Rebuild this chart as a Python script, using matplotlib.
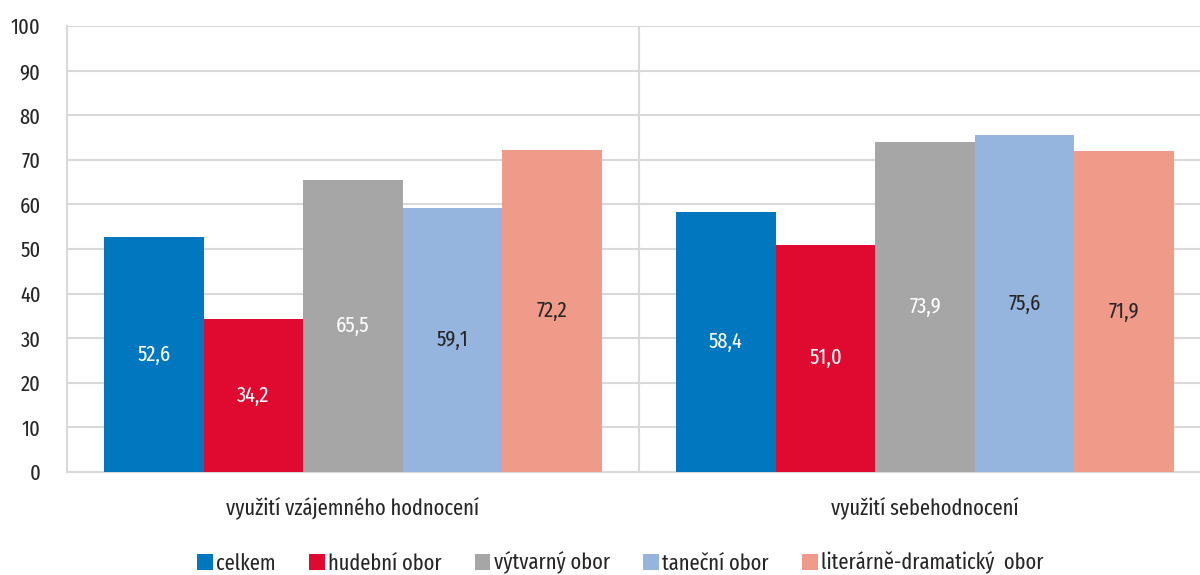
import matplotlib

matplotlib.use("Agg")

import matplotlib.pyplot as plt
import numpy as np

plt.rcParams["font.family"] = ["Fira Sans Extra Condensed", "DejaVu Sans"]

categories = ["využití vzájemného hodnocení", "využití sebehodnocení"]
series_names = ["celkem", "hudební obor", "výtvarný obor", "taneční obor", "literárně-dramatický  obor"]
values = [
    [52.6, 58.4],
    [34.2, 51.0],
    [65.5, 73.9],
    [59.1, 75.6],
    [72.2, 71.9],
]
colors = ["#0077BF", "#E0092F", "#A6A6A6", "#95B4DE", "#F09A89"]
label_colors = ["white", "white", "white", "#262626", "#262626"]

fig = plt.figure(figsize=(12, 5.75), dpi=100)
ax = fig.add_axes([67 / 1200, 103 / 575, 1144 / 1200, 446 / 575])

x = np.arange(len(categories))
width = 0.174
for i, (name, vals) in enumerate(zip(series_names, values)):
    pos = x + (i - 2) * width
    bars = ax.bar(pos, vals, width, color=colors[i], label=name, zorder=3)
    for b, v in zip(bars, vals):
        ax.text(b.get_x() + b.get_width() / 2, v / 2, f"{v:.1f}".replace(".", ","),
                ha="center", va="center", fontsize=16, color=label_colors[i], zorder=4)

ax.set_xlim(-0.5, 1.5)
ax.set_ylim(0, 100)
ax.set_yticks(range(0, 101, 10))
ax.set_xticks([0.5], minor=True)
ax.set_xticks(x)
ax.set_xticklabels(categories, fontsize=16)
ax.tick_params(axis="x", which="both", length=0, pad=18)
ax.tick_params(axis="y", length=0, labelsize=16, pad=19, labelcolor="#262626")
ax.tick_params(axis="x", labelcolor="#262626")
ax.grid(axis="y", color="#D9D9D9", linewidth=1.5, zorder=0)
ax.grid(axis="x", which="minor", color="#D9D9D9", linewidth=1.5, zorder=0)
for side in ["top", "right"]:
    ax.spines[side].set_visible(False)
for side in ["left", "bottom"]:
    ax.spines[side].set_color("#D9D9D9")
    ax.spines[side].set_linewidth(1.5)

fig.legend(loc="center", bbox_to_anchor=(0.517, 12 / 575), ncol=5, frameon=False,
           fontsize=16, handlelength=0.7, handleheight=0.7, handletextpad=0.15,
           columnspacing=1.5, labelcolor="#262626")

fig.savefig("out.png", dpi=100)
